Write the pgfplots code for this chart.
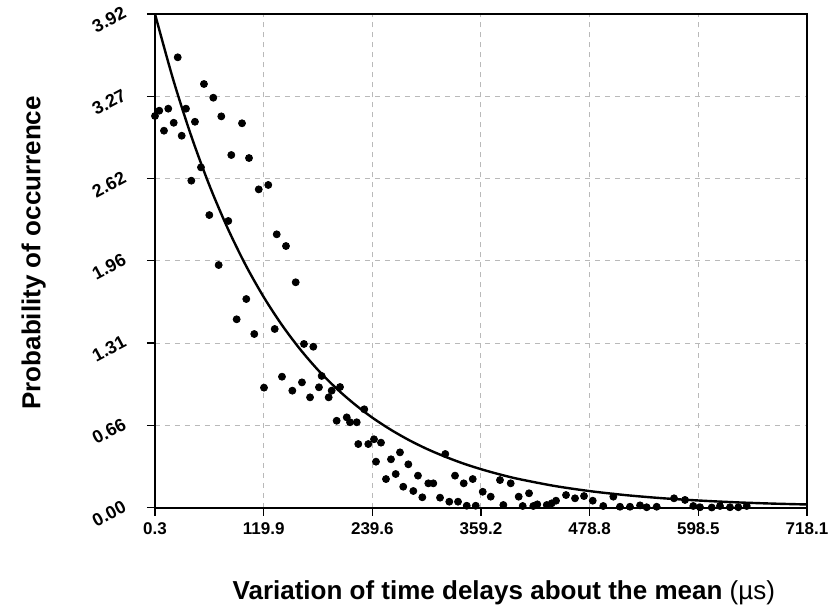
\documentclass[border=0pt]{standalone}
\usepackage{fontspec}
\setmainfont{Liberation Sans}
\usepackage{pgfplots}
\usepackage{pgfplotstable}
\pgfplotsset{compat=1.18}

% measured points (x in microseconds, y probability)
\pgfplotstableread{
x y
0.3 3.110
5.0 3.152
14.9 3.168
10.2 2.993
20.9 3.056
25.3 3.576
34.4 3.168
29.7 2.953
44.3 3.064
40.3 2.596
50.9 2.702
54.2 3.364
64.5 3.255
73.3 3.107
60.1 2.323
70.4 1.926
81.0 2.276
84.3 2.800
96.1 3.052
103.8 2.776
90.2 1.495
100.8 1.656
109.6 1.378
114.5 2.527
125.0 2.562
120.3 0.952
132.1 1.418
134.3 2.170
144.5 2.077
155.2 1.789
140.1 1.039
151.5 0.928
162.1 0.994
164.3 1.299
174.6 1.277
171.0 0.875
180.8 0.955
183.8 1.045
191.5 0.875
194.8 0.928
204.0 0.957
200.3 0.689
211.4 0.716
215.0 0.677
222.4 0.677
230.7 0.780
224.1 0.504
235.1 0.504
241.4 0.542
249.1 0.515
243.6 0.364
260.1 0.383
270.0 0.438
279.2 0.343
254.6 0.226
265.3 0.266
289.8 0.253
273.6 0.165
284.7 0.131
294.6 0.081
301.2 0.192
306.7 0.192
314.1 0.078
319.9 0.425
324.3 0.046
333.9 0.046
330.6 0.253
340.2 0.192
350.1 0.226
343.5 0.014
353.4 0.014
361.1 0.125
369.9 0.086
380.1 0.218
383.8 0.020
391.9 0.192
400.7 0.086
412.1 0.113
405.1 0.012
416.8 0.012
421.2 0.025
431.6 0.020
437.0 0.033
441.8 0.054
452.8 0.099
462.7 0.073
472.6 0.091
482.2 0.054
493.8 0.012
504.9 0.086
512.2 0.006
523.2 0.006
534.3 0.017
541.6 0.002
552.6 0.006
571.7 0.073
583.8 0.060
592.9 0.012
600.3 0.002
613.2 0.000
622.3 0.012
633.3 0.002
642.5 0.002
651.7 0.012
}\measured

% fitted decay curve
\pgfplotstableread{
x y
0.3 3.920
20.3 3.400
40.3 2.949
60.3 2.557
80.3 2.218
100.3 1.923
120.3 1.668
140.3 1.447
160.3 1.255
180.3 1.088
200.3 0.944
220.3 0.819
240.3 0.710
260.3 0.616
280.3 0.534
300.3 0.463
320.3 0.402
340.3 0.348
360.3 0.302
380.3 0.262
400.3 0.227
440.3 0.171
480.3 0.129
520.3 0.097
560.3 0.073
600.3 0.055
640.3 0.041
680.3 0.031
718.1 0.024
}\fitted

\begin{document}
\begin{tikzpicture}
\begin{axis}[
    at={(0,0)}, anchor=south west,
    width=326pt, height=246.75pt, scale only axis,
    xmin=0.3, xmax=718.1, ymin=0, ymax=3.92,
    xtick={0.3,119.93,239.57,359.2,478.83,598.47,718.1},
    xticklabels={0.3,119.9,239.6,359.2,478.8,598.5,718.1},
    ytick={0,0.65333,1.30667,1.96,2.61333,3.26667,3.92},
    yticklabels={0.00,0.66,1.31,1.96,2.62,3.27,3.92},
    minor tick num=3,
    tick align=outside, tick pos=left,
    major tick length=4pt, minor tick length=3pt,
    every tick/.style={black, line width=0.7pt},
    axis line style={line width=1pt},
    grid=major,
    major grid style={dash pattern=on 2.5pt off 2.5pt, gray!55, line width=0.5pt},
    xticklabel style={font=\fontsize{8.5}{10}\selectfont\bfseries, anchor=center, yshift=-6.75pt},
    yticklabel style={font=\fontsize{9}{10}\selectfont\bfseries, anchor=center, xshift=-19pt, yshift=-3pt, rotate=28, inner sep=0pt},
    xlabel={\fontsize{13}{15}\selectfont\bfseries Variation of time delays about the mean \mdseries(\textmu s)},
    ylabel={\fontsize{13}{15}\selectfont\bfseries Probability of occurrence},
    xlabel style={at={(axis description cs:0.535,-0.173)}, anchor=center},
    ylabel style={at={(axis description cs:-0.186,0.516)}, anchor=center},
    clip=false,
]
\addplot[only marks, mark=*, mark size=1.75pt, black] table[x=x, y=y] {\measured};
\addplot[black, line width=1.2pt, smooth] table[x=x, y=y] {\fitted};
\end{axis}
\pgfresetboundingbox
\path[use as bounding box] (-77.5pt,-51.75pt) rectangle (338pt,253.75pt);
\end{tikzpicture}
\end{document}
